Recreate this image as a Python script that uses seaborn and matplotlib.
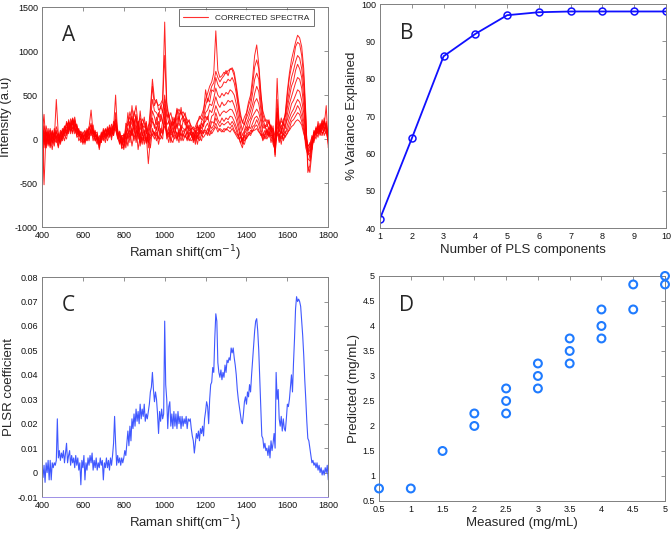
import seaborn as sns
import matplotlib.pyplot as plt
import matplotlib.ticker as mticker
import pandas as pd
import numpy as np

sns.set_style("white")
plt.rcParams['font.family'] = ['Liberation Sans', 'DejaVu Sans']
plt.rcParams['axes.unicode_minus'] = False

# ---- Panel A: corrected Raman spectra (sampled every 10 cm-1, 400-1800) ----
shift_a = np.arange(400, 1801, 10)
spec_1 = [460, -100, 80, 20, 120, -40, 60, 80, 10, 40,
          90, 130, 160, 190, 150, 200, 170, 140, 100, 50,
          20, 50, 90, 110, 160, 90, 40, 0, -40, 20,
          60, 110, 80, 130, 90, 150, 230, 90, 30, -40,
          0, 120, 200, 250, 160, 320, 220, 150, 100, 230,
          180, 120, 90, 350, 680, 450, 420, 380, 400, 450,
          1330, 420, 260, 200, 150, 240, 300, 340, 280, 310,
          260, 220, 190, 150, 100, 140, 200, 230, 270, 340,
          450, 520, 600, 650, 750, 1230, 780, 700, 720, 760,
          740, 780, 790, 810, 760, 620, 450, 300, 180, 250,
          300, 420, 500, 700, 950, 1070, 850, 550, 280, 200,
          220, 180, 140, 80, -50, 350, 150, 200, 180, 300,
          550, 750, 900, 1000, 1100, 1180, 1150, 1050, 800, 300,
          -380, -300, -100, 50, 120, 100, 140, 180, 120, 200,
          0]
spec_2 = [-730, 100, -50, 60, -20, 90, -10, 450, 40, -30,
          40, 150, 90, 200, 120, 230, 140, 160, 60, 80,
          -20, 90, 40, 130, 330, 70, 80, -40, -20, 40,
          20, 120, 40, 160, 60, 130, 500, 40, 60, -110,
          -80, 180, 150, 310, 200, 260, 380, 170, 240, 160,
          130, 200, 10, 280, 600, 380, 450, 330, 350, 420,
          950, 380, 240, 300, 180, 200, 350, 280, 310, 240,
          300, 180, 220, 110, 140, 60, 180, 260, 220, 300,
          560, 420, 520, 600, 640, 770, 700, 650, 690, 720,
          780, 720, 800, 790, 720, 580, 400, 260, 200, 160,
          280, 380, 450, 620, 820, 900, 800, 500, 320, 240,
          180, 220, 100, 120, 20, 690, 120, 240, 150, 280,
          500, 700, 820, 900, 1050, 1100, 1080, 950, 700, 250,
          -300, -380, -150, 80, 60, 150, 100, 220, 150, 380,
          -100]
spec_3 = [200, -520, 100, -30, 70, 0, 80, 30, -80, 60,
          100, 60, 180, 120, 230, 160, 250, 110, 50, 90,
          40, -40, 120, 60, 100, 160, 20, 50, -100, 60,
          80, 40, 140, 70, 170, 100, 140, 110, -50, 20,
          -120, 40, 300, 90, 380, 150, 280, 60, 320, 100,
          250, 60, 150, 200, 450, 320, 300, 250, 380, 300,
          500, 300, 180, 120, 250, 160, 330, 200, 360, 200,
          240, 120, 160, 80, 60, 120, 140, 100, 200, 240,
          380, 460, 420, 560, 540, 700, 620, 580, 600, 650,
          640, 680, 660, 700, 640, 520, 360, 200, 100, 180,
          240, 300, 380, 520, 680, 750, 680, 420, 220, 160,
          140, 200, 60, 150, -80, 300, 200, 100, 220, 260,
          420, 560, 700, 780, 880, 950, 920, 800, 600, 200,
          -220, -250, -80, 20, 140, 60, 180, 100, 200, 120,
          60]
spec_4 = [50, 280, -100, 120, -60, 40, -20, 100, 0, -40,
          30, 110, 60, 170, 90, 130, 210, 80, 120, -20,
          60, 100, -20, 90, 180, 40, 100, -30, 40, -10,
          100, 40, 90, 40, 120, 60, 210, 20, 90, -20,
          60, -60, 160, 200, 40, 230, 120, 200, -40, 180,
          60, 180, -100, 120, 320, 250, 160, 300, 200, 320,
          450, 250, 300, 60, 200, 100, 260, 150, 220, 260,
          160, 200, 90, 120, 20, 80, 100, 160, 120, 200,
          300, 330, 400, 380, 460, 580, 500, 470, 520, 490,
          530, 510, 560, 540, 500, 400, 260, 140, 40, 100,
          180, 240, 320, 400, 520, 600, 540, 340, 180, 120,
          180, 100, 150, 40, -150, 450, 80, 160, 100, 200,
          360, 480, 600, 660, 780, 850, 800, 700, 480, 120,
          -180, -160, -40, 80, 60, 160, 80, 140, 200, 100,
          20]
spec_5 = [-100, 150, 30, -80, 100, -60, 120, 20, -40, 80,
          -20, 80, 140, 60, 200, 110, 160, 170, 30, 60,
          -60, 30, 80, -20, 140, 100, -20, 60, -80, 80,
          -20, 100, 20, 130, -10, 160, 160, 50, -40, 40,
          -100, 100, 40, 180, 260, 80, 260, 0, 200, 40,
          100, -50, 60, 150, 240, 120, 250, 100, 280, 180,
          400, 160, 200, 120, 60, 240, 120, 280, 100, 200,
          220, 60, 140, 40, 80, -20, 160, 60, 180, 140,
          260, 220, 330, 300, 380, 480, 400, 360, 420, 380,
          400, 440, 420, 440, 380, 300, 180, 60, 0, 60,
          100, 200, 240, 330, 420, 460, 400, 260, 120, 160,
          60, 140, 80, 100, -200, 200, 100, 60, 180, 120,
          280, 400, 480, 560, 640, 700, 680, 580, 380, 60,
          -100, -220, 0, -20, 100, 120, 40, 200, 100, 180,
          -60]
spec_6 = [120, -60, 150, 40, -100, 60, 20, 140, 60, 0,
          120, 40, 200, 100, 160, 240, 90, 140, 80, 0,
          80, -60, 60, 140, 80, 20, 60, 80, -120, 20,
          60, 0, 110, 60, 140, 40, 300, 80, 20, -60,
          40, 60, 120, -40, 140, 200, 0, 120, 80, -20,
          40, 120, -40, 80, 200, 160, 100, 200, 60, 200,
          350, 120, 40, 200, 100, 60, 180, 40, 160, 120,
          100, 160, 20, 100, -40, 100, 20, 140, 60, 180,
          200, 260, 160, 260, 280, 380, 320, 260, 300, 320,
          300, 320, 340, 330, 280, 220, 120, 40, -60, 80,
          140, 100, 200, 260, 300, 340, 300, 200, 80, 40,
          120, 40, 160, -20, -120, 300, -20, 120, 40, 160,
          220, 300, 400, 440, 500, 560, 540, 440, 300, 20,
          -60, -100, -40, 100, 40, 200, 80, 100, 240, 60,
          100]
spec_7 = [-60, 40, -100, 80, 20, -120, 60, 0, -100, 40,
          0, 140, 40, 220, 60, 180, 120, 60, 100, -40,
          0, 60, 20, 100, 60, 120, 0, -60, 20, -40,
          120, 20, 60, 100, 40, 200, 140, 0, 80, -100,
          20, -100, 60, 100, -80, 60, 140, -120, 40, 100,
          -60, 40, -280, 0, 120, 40, 140, 0, 120, 60,
          300, 0, 140, -40, 80, 160, -20, 120, 40, 100,
          60, -20, 80, 40, 0, 60, -60, 60, 100, 60,
          140, 180, 100, 200, 180, 300, 220, 180, 240, 200,
          240, 220, 260, 250, 200, 140, 60, -40, -100, 20,
          60, 140, 120, 180, 240, 260, 220, 120, 20, 100,
          40, 100, -40, 60, -180, 150, 60, -60, 100, 60,
          160, 240, 300, 340, 400, 450, 420, 340, 200, -60,
          -140, -40, -120, 40, 80, 20, 160, 60, 100, 140,
          -40]
spec_8 = [40, -30, 60, -40, 40, 20, -80, 80, 20, -60,
          60, -20, 100, 80, 180, 60, 220, 20, 40, 60,
          -40, 0, 100, 40, 100, 60, 40, 20, -40, 0,
          0, 60, -20, 60, 80, 100, 120, 40, -20, 0,
          -40, 80, 0, 60, 120, 20, 60, 200, -80, 60,
          0, 80, 20, -100, 100, 60, -20, 120, 40, 0,
          250, 60, -40, 100, 20, 100, 60, -40, 140, 20,
          120, 40, -20, 20, 60, -60, 80, 20, -20, 100,
          100, 60, 160, 120, 160, 240, 180, 140, 180, 160,
          180, 200, 160, 200, 160, 100, 20, 80, -40, -60,
          40, 80, 60, 140, 160, 220, 160, 80, -20, 40,
          100, 20, 80, -60, -120, 100, -40, 40, 0, 80,
          100, 180, 240, 280, 320, 380, 340, 260, 140, -100,
          -180, -100, 40, -40, 120, 60, 100, 180, 40, 100,
          80]
spec_9 = [-40, 90, -20, 40, -80, 80, 0, -40, 60, -20,
          80, 40, 0, 140, 100, 220, 60, 120, -20, 20,
          40, -20, 40, 0, 120, -20, 80, 0, -60, 60,
          40, -40, 120, 20, 100, 40, 180, 60, 40, -60,
          0, 40, -80, 100, 40, 160, -40, 80, 40, -60,
          80, -40, 60, 40, 60, 0, 80, -60, 60, 100,
          200, 40, 80, 0, -40, 60, 0, 80, -20, 60,
          20, 80, 0, -20, 20, 40, 0, 100, 40, 20,
          60, 120, 40, 100, 120, 180, 120, 100, 80, 120,
          100, 140, 120, 160, 100, 60, 40, -40, 0, -20,
          20, 40, 100, 80, 140, 160, 100, 40, 60, 0,
          40, 80, 20, 0, -60, 80, 20, 100, -20, 40,
          60, 120, 200, 220, 260, 300, 280, 200, 100, -40,
          -120, -140, -60, 60, 0, 140, 60, 40, 120, 160,
          20]
spec_10 = [20, 0, 80, -60, 0, 100, -40, 40, -20, 100,
           40, 100, 60, 100, 140, 80, 140, 40, 80, 20,
           20, 40, -20, 60, 40, 80, -20, 40, -20, -40,
           80, 60, 40, 80, 20, 120, 100, 20, -60, 40,
           40, 0, 40, 20, 80, -20, 100, 40, -40, 20,
           -20, 20, -40, 20, 40, 80, 40, 20, 0, 60,
           150, 80, 20, 60, 40, 0, 80, 20, 60, -20,
           40, 0, 60, 60, -20, 20, 40, -20, 60, 80,
           80, 40, 100, 60, 100, 140, 80, 120, 100, 80,
           120, 100, 80, 120, 80, 40, 0, 20, -20, 40,
           0, 60, 40, 100, 100, 120, 80, 60, 0, 40,
           0, 60, 40, 40, -40, 40, 60, 0, 60, 20,
           80, 100, 140, 160, 200, 220, 200, 160, 60, -20,
           -80, -60, 20, 40, 60, 80, 120, 60, 100, 60,
           -20]
spectra = [spec_1, spec_2, spec_3, spec_4, spec_5,
           spec_6, spec_7, spec_8, spec_9, spec_10]

# ---- Panel B: variance explained ----
n_components = [1, 2, 3, 4, 5, 6, 7, 8, 9, 10]
variance_explained = [42.5, 64.0, 86.0, 92.0, 97.0, 97.8, 98.0, 98.0, 98.0, 98.0]

# ---- Panel C: PLSR coefficients (every 5 cm-1, 400-1800) ----
shift_c = np.arange(400, 1801, 5)
plsr_coef = [0.004, -0.002, 0.003, -0.004, 0.004, 0.000, 0.005, -0.003, 0.005, -0.003,
             0.004, 0.002, 0.004, 0.003, 0.005, 0.022, 0.006, 0.009, 0.005, 0.008,
             0.006, 0.009, 0.004, 0.008, 0.012, 0.004, 0.007, 0.009, 0.003, 0.007,
             0.004, 0.006, 0.002, 0.007, 0.003, 0.006, 0.001, 0.004, -0.005, 0.005,
             0.002, 0.007, -0.003, 0.004, 0.001, 0.006, 0.003, 0.007, 0.004, 0.008,
             0.001, 0.005, 0.002, 0.006, 0.001, 0.004, 0.002, 0.006, 0.003, 0.005,
             -0.003, 0.004, 0.002, 0.006, 0.002, 0.005, 0.001, 0.006, 0.003, 0.007,
             0.012, 0.023, 0.012, 0.003, 0.007, 0.004, 0.006, 0.003, 0.006, 0.004,
             0.006, 0.009, 0.007, 0.012, 0.017, 0.011, 0.019, 0.013, 0.022, 0.018,
             0.024, 0.019, 0.026, 0.021, 0.025, 0.020, 0.028, 0.022, 0.026, 0.023,
             0.028, 0.021, 0.024, 0.022, 0.025, 0.028, 0.033, 0.035, 0.041, 0.034,
             0.029, 0.033, 0.030, 0.024, 0.016, 0.025, 0.021, 0.026, 0.022, 0.024,
             0.062, 0.036, 0.030, 0.018, 0.027, 0.029, 0.019, 0.024, 0.018, 0.025,
             0.019, 0.024, 0.018, 0.025, 0.020, 0.023, 0.018, 0.023, 0.019, 0.022,
             0.020, 0.023, 0.018, 0.022, 0.021, 0.022, 0.018, 0.015, 0.013, 0.008,
             0.012, 0.016, 0.014, 0.017, 0.013, 0.018, 0.016, 0.019, 0.015, 0.022,
             0.025, 0.029, 0.027, 0.020, 0.030, 0.036, 0.037, 0.043, 0.041, 0.055,
             0.065, 0.062, 0.045, 0.041, 0.039, 0.042, 0.038, 0.041, 0.039, 0.044,
             0.041, 0.046, 0.045, 0.047, 0.046, 0.051, 0.049, 0.051, 0.047, 0.044,
             0.040, 0.034, 0.030, 0.027, 0.024, 0.021, 0.020, 0.024, 0.029, 0.031,
             0.028, 0.033, 0.031, 0.036, 0.033, 0.040, 0.046, 0.052, 0.058, 0.062,
             0.063, 0.058, 0.050, 0.038, 0.025, 0.015, 0.014, 0.010, 0.012, 0.009,
             0.010, 0.007, 0.011, 0.006, 0.013, 0.009, 0.012, 0.016, 0.010, 0.041,
             0.030, 0.034, 0.022, 0.019, 0.023, 0.017, 0.022, 0.018, 0.017, 0.022,
             0.028, 0.027, 0.030, 0.035, 0.040, 0.033, 0.045, 0.055, 0.067, 0.072,
             0.070, 0.071, 0.070, 0.068, 0.062, 0.056, 0.048, 0.038, 0.030, 0.021,
             0.014, 0.013, 0.010, 0.007, 0.004, 0.005, 0.003, 0.004, 0.002, 0.004,
             0.001, 0.003, 0.000, 0.002, -0.001, 0.001, -0.001, 0.002, 0.000, 0.003,
             -0.003]

# ---- Panel D: measured vs predicted ----
measured = [0.5, 1, 1.5, 2, 2, 2.5, 2.5, 2.5, 3, 3, 3, 3.5, 3.5, 3.5,
            4, 4, 4, 4.5, 4.5, 5, 5]
predicted = [0.75, 0.75, 1.5, 2.0, 2.25, 2.25, 2.5, 2.75, 2.75, 3.0, 3.25,
             3.25, 3.5, 3.75, 3.75, 4.0, 4.33, 4.33, 4.83, 4.83, 5.0]

fig = plt.figure(figsize=(6.72, 5.35), dpi=100)
axA = fig.add_axes([0.0625, 0.5757, 0.426, 0.411])
axB = fig.add_axes([0.5655, 0.5738, 0.4256, 0.4187])
axC = fig.add_axes([0.0625, 0.0710, 0.426, 0.411])
axD = fig.add_axes([0.564, 0.0636, 0.4256, 0.4206])

# A
for i, s in enumerate(spectra):
    sns.lineplot(x=shift_a, y=s, ax=axA, color="#ff0000", lw=0.7, alpha=0.85,
                 label="CORRECTED SPECTRA" if i == 0 else None)
axA.set_xlim(400, 1800)
axA.set_ylim(-1000, 1500)
axA.set_xticks(range(400, 1801, 200))
axA.set_yticks(range(-1000, 1501, 500))
axA.set_xlabel("Raman shift(cm$^{-1}$)")
axA.set_ylabel("Intensity (a.u)")
leg = axA.legend(loc="upper right", bbox_to_anchor=(0.955, 0.997), fontsize=6,
                 frameon=True, fancybox=False, edgecolor="#333333",
                 handlelength=3.0, borderpad=0.55, borderaxespad=0.2)
leg.get_frame().set_linewidth(0.6)
for h in leg.get_lines():
    h.set_color("#ff3030")
    h.set_linewidth(0.8)
    h.set_alpha(1)

# B
sns.lineplot(x=n_components, y=variance_explained, ax=axB, color="#1010ff",
             lw=1.3, marker="o", markersize=5, markerfacecolor="none",
             markeredgecolor="#1010ff", markeredgewidth=1.1)
axB.set_xlim(1, 10)
axB.set_ylim(40, 100)
axB.set_xticks(range(1, 11))
axB.set_yticks(range(40, 101, 10))
axB.set_xlabel("Number of PLS components")
axB.set_ylabel("% Variance Explained")

# C
sns.lineplot(x=shift_c, y=plsr_coef, ax=axC, color="#4058ff", lw=0.8)
axC.set_xlim(400, 1800)
axC.set_ylim(-0.01, 0.08)
axC.set_xticks(range(400, 1801, 200))
axC.set_yticks(np.arange(-0.01, 0.081, 0.01))
axC.set_xlabel("Raman shift(cm$^{-1}$)")
axC.set_ylabel("PLSR coefficient")
axC.spines["bottom"].set_color("#9d8fe6")

# D
sns.scatterplot(x=measured, y=predicted, ax=axD, s=32, facecolor="none",
                edgecolor="#1f7bff", linewidth=1.5, clip_on=False, zorder=5)
axD.set_xlim(0.5, 5)
axD.set_ylim(0.5, 5)
axD.set_xticks(np.arange(0.5, 5.01, 0.5))
axD.set_yticks(np.arange(0.5, 5.01, 0.5))
axD.set_xlabel("Measured (mg/mL)")
axD.set_ylabel("Predicted (mg/mL)")

fmt = mticker.FuncFormatter(lambda v, p: f"{v:g}" if abs(v) > 1e-9 else "0")
for ax, letter in zip([axA, axB, axC, axD], "ABCD"):
    ax.tick_params(direction="in", top=True, right=True, length=3, width=0.6,
                   labelsize=6.5, color="#808080", labelcolor="#111111", pad=3)
    ax.xaxis.set_major_formatter(fmt)
    ax.yaxis.set_major_formatter(fmt)
    for name, sp in ax.spines.items():
        sp.set_linewidth(0.7)
        if not (ax is axC and name == "bottom"):
            sp.set_color("#808080")
    ax.xaxis.label.set_size(9.5)
    ax.yaxis.label.set_size(9.5)
    ax.xaxis.labelpad = 2
    ax.yaxis.labelpad = 2
    ax.text(0.07, 0.87, letter, transform=ax.transAxes, fontsize=15,
            family=["Open Sans", "DejaVu Sans"], va="center", ha="left")

fig.savefig("out.png", dpi=100)
plt.close(fig)
